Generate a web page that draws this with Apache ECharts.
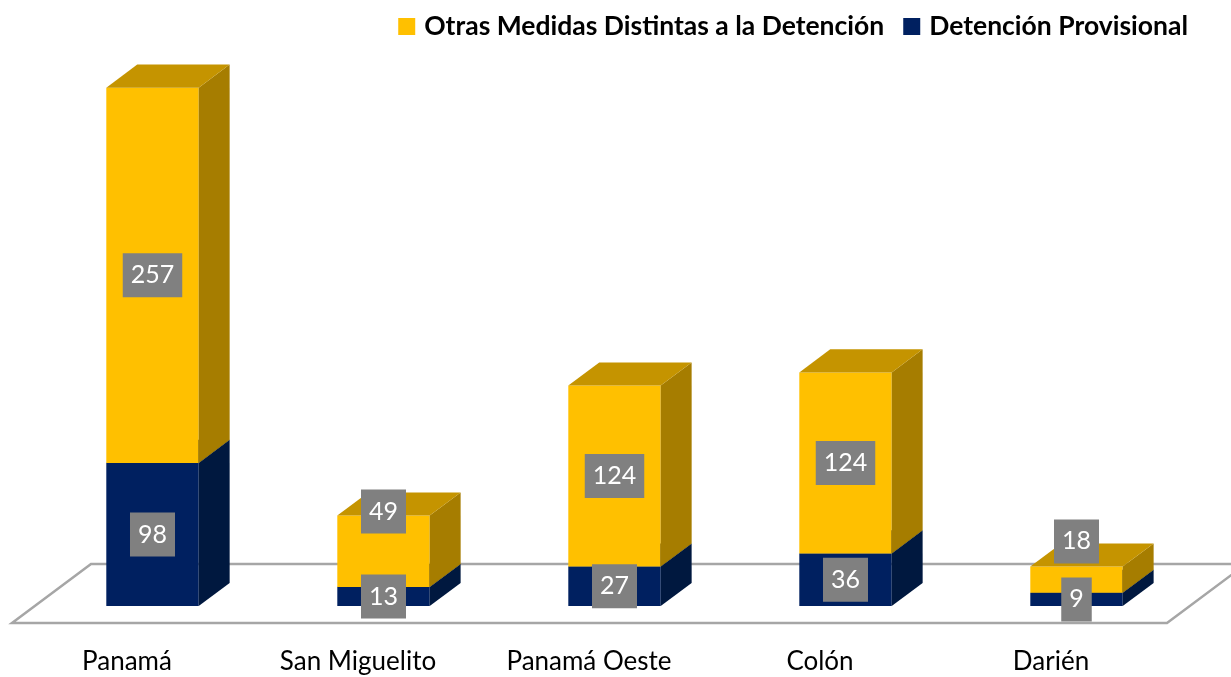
<!DOCTYPE html>
<html>
<head>
<meta charset="utf-8">
<script src="https://cdn.jsdelivr.net/npm/echarts@6/dist/echarts.min.js"></script>
<style>
  html, body { margin: 0; padding: 0; background: #ffffff; }
  #chart { width: 1231px; height: 677px; }
</style>
</head>
<body>
<div id="chart"></div>
<script>
// ---- Data ----
const categories = ['Panamá', 'San Miguelito', 'Panamá Oeste', 'Colón', 'Darién'];
const detencionProvisional = [98, 13, 27, 36, 9];
const otrasMedidas = [257, 49, 124, 124, 18];
const seriesNames = ['Otras Medidas Distintas a la Detención', 'Detención Provisional'];

// ---- Styles ----
const FONT = 'Lato, "Open Sans", sans-serif';
const YELLOW = { front: '#FFC000', side: '#A67D00', top: '#C59400' };
const BLUE = { front: '#002060', side: '#00183F', top: '#001A4D' };

function barGeom(api, cat, lo, hi) {
  const pLo = api.coord([cat, lo]);
  const pHi = api.coord([cat, hi]);
  const bw = api.size([1, 0])[0] * 0.4;
  return {
    x0: pLo[0] - bw / 2, x1: pLo[0] + bw / 2, cx: pLo[0],
    yb: pLo[1], yt: pHi[1], dx: bw * 0.335, dy: bw * 0.25
  };
}

function makeBarRenderer(colors) {
  return function (params, api) {
    const g = barGeom(api, api.value(0), api.value(1), api.value(2));
    return {
      type: 'group',
      children: [
        { type: 'rect', shape: { x: g.x0, y: g.yt, width: g.x1 - g.x0, height: g.yb - g.yt },
          style: { fill: colors.front } },
        { type: 'polygon', shape: { points: [[g.x1, g.yb], [g.x1 + g.dx, g.yb - g.dy], [g.x1 + g.dx, g.yt - g.dy], [g.x1, g.yt]] },
          style: { fill: colors.side } },
        { type: 'polygon', shape: { points: [[g.x0, g.yt], [g.x0 + g.dx, g.yt - g.dy], [g.x1 + g.dx, g.yt - g.dy], [g.x1, g.yt]] },
          style: { fill: colors.top } }
      ]
    };
  };
}

const blueData = categories.map((c, i) => [i, 0, detencionProvisional[i]]);
const yellowData = categories.map((c, i) => [i, detencionProvisional[i], detencionProvisional[i] + otrasMedidas[i]]);
const labelData = categories.map((c, i) => [i, detencionProvisional[i], otrasMedidas[i]]);

function labelText(text, x, y) {
  return {
    type: 'text',
    style: {
      text: String(text), x: x, y: y, align: 'center', verticalAlign: 'middle',
      fill: '#ffffff', font: '25px ' + FONT, lineHeight: 26,
      backgroundColor: '#808080', padding: [9, 8, 9, 8]
    }
  };
}

function renderLabels(params, api) {
  const cat = api.value(0), b = api.value(1), o = api.value(2);
  const gb = barGeom(api, cat, 0, b);
  const gy = barGeom(api, cat, b, b + o);
  const blueY = (gb.yb + gb.yt) / 2;
  let yelY = (gy.yb + gy.yt) / 2;
  if (gy.yb - gy.yt < 90) yelY = gy.yt - 4;
  if (blueY - yelY < 58) yelY = blueY - 58;
  return {
    type: 'group',
    children: [labelText(b, gb.cx, blueY), labelText(o, gy.cx, yelY)]
  };
}

function renderFloor(params, api) {
  const cs = params.coordSys;
  const yb = cs.y + cs.height;
  const fy = yb + 17, by = yb - 42, fx = -25, bx = 54;
  return {
    type: 'polygon',
    shape: { points: [
      [cs.x + fx, fy], [cs.x + cs.width + fx, fy],
      [cs.x + cs.width + bx, by], [cs.x + bx, by]
    ] },
    style: { fill: 'none', stroke: '#A6A6A6', lineWidth: 2.5 }
  };
}

const chart = echarts.init(document.getElementById('chart'), null, { renderer: 'canvas' });
chart.setOption({
  animation: false,
  backgroundColor: '#ffffff',
  legend: {
    data: [seriesNames[0], seriesNames[1]],
    right: 38, top: 8,
    icon: 'rect', itemWidth: 17, itemHeight: 17, itemGap: 19,
    selectedMode: false,
    textStyle: { fontFamily: FONT, fontWeight: 'bold', fontSize: 26.5, color: '#000000', padding: [0, 0, 0, 4] }
  },
  grid: { left: 37, right: 39, top: 22, bottom: 70 },
  xAxis: {
    type: 'category', data: categories,
    axisLine: { show: false }, axisTick: { show: false }, splitLine: { show: false },
    axisLabel: { fontFamily: FONT, fontSize: 26, color: '#000000', margin: 41, lineHeight: 30,
      padding: [0, 51, 0, 0], interval: 0 }
  },
  yAxis: { type: 'value', min: 0, max: 400, show: false, splitLine: { show: false } },
  series: [
    { type: 'custom', name: 'floor', z: 1, silent: true, renderItem: renderFloor, data: [[0]] },
    { type: 'custom', name: seriesNames[1], z: 2, renderItem: makeBarRenderer(BLUE),
      itemStyle: { color: BLUE.front }, data: blueData, encode: { x: 0, y: [1, 2] } },
    { type: 'custom', name: seriesNames[0], z: 2, renderItem: makeBarRenderer(YELLOW),
      itemStyle: { color: YELLOW.front }, data: yellowData, encode: { x: 0, y: [1, 2] } },
    { type: 'custom', name: 'labels', z: 10, silent: true, renderItem: renderLabels, data: labelData,
      encode: { x: 0, y: 1 } }
  ]
});
</script>
</body>
</html>
